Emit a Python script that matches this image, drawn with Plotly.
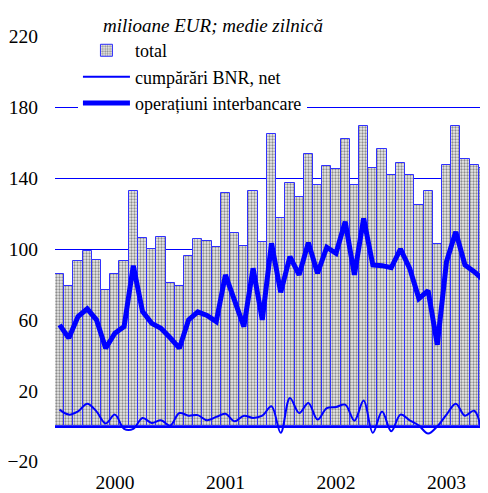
import plotly.graph_objects as go

# monthly observations (Dec 1999 ... Oct 2003)
n_months = 47
x_idx = list(range(n_months))

year_tick_pos = [6, 18, 30, 42]
year_labels = ["2000", "2001", "2002", "2003"]

total = [86, 79, 93, 99, 94, 77, 86, 93, 133, 106, 100, 107, 81, 79, 96, 105.5,
         104.3, 101.1, 131.9, 108.8, 101.9, 132.8, 103.8, 165.2, 117.5, 137, 129.5,
         153.7, 136, 146.9, 144.9, 162, 136.2, 169.3, 146, 156.7, 141.5, 148.6, 142,
         124.8, 132.5, 102.6, 147.7, 169.3, 150.9, 147.3, 146]

cumparari_bnr = [9.3, 6.5, 8.3, 12.7, 8.3, 1.5, 6.5, -1.5, -1.5, 4.6, 1.8, 3.3, 0.3,
                 7.4, 5.9, 6.2, 3.3, 5.2, 7, 2.7, 5.9, 4.6, 5.9, 11.2, -3.8, 15.9, 7.4,
                 13.1, 3.7, 10.2, 10.8, 12.1, 3.1, 14.4, -3.8, 8.3, -2.9, 6.5, 3.3, 0.3,
                 -4.2, -0.1, 6.5, 12.7, 5.9, 8.7, -8.6]

operatiuni_interbancare = [57.2, 49.7, 61.9, 66.2, 60, 44, 52.5, 56.2, 90.6, 64.7, 58,
                           55.3, 49.9, 44, 60, 64.5, 62.5, 59, 85.4, 71, 56.2, 89.1, 60,
                           103.2, 75.5, 95.7, 85.4, 103.6, 86.3, 101, 97.6, 115.4, 85.4,
                           117.3, 91, 90.6, 89.5, 100, 89.1, 72, 76.5, 45.9, 92.9, 109.7,
                           91, 87.2, 82.5]

y_ticks = [-20, 20, 60, 100, 140, 180, 220]

BLUE = "#0000ff"
SERIF = "Liberation Serif"

# the page body has an 8px default margin: figure is 480x485 drawn at offset (8, 8)
fig = go.Figure()
fig.add_trace(go.Bar(
    x=x_idx, y=total, name="total",
    marker=dict(color="#d8d8d8",
                line=dict(color="#3030ff", width=1),
                pattern=dict(shape=".", fgcolor="#8c8c8c", bgcolor="#ececec",
                             size=3, solidity=0.45)),
))
fig.add_trace(go.Scatter(
    x=x_idx, y=cumparari_bnr, name="cumpărări BNR, net", mode="lines",
    line=dict(color=BLUE, width=2, shape="spline", smoothing=1.0),
))
fig.add_trace(go.Scatter(
    x=x_idx, y=operatiuni_interbancare, name="operațiuni interbancare", mode="lines",
    line=dict(color=BLUE, width=5),
))

fig.update_layout(
    template="none",
    width=480, height=485,
    margin=dict(l=47, r=0, t=28, b=31, pad=0),
    paper_bgcolor="white", plot_bgcolor="white",
    bargap=0,
    font=dict(family=SERIF, size=19, color="black"),
    showlegend=True,
    legend=dict(x=0.053, y=1.0092, xanchor="left", yanchor="top",
                bgcolor="white", borderwidth=0,
                font=dict(family=SERIF, size=18, color="black"),
                itemwidth=47, tracegroupgap=0),
    annotations=[dict(text="<i>milioane EUR; medie zilnică</i>", xref="paper", yref="paper",
                      x=0.106, y=1.0246, xanchor="left", yanchor="middle", showarrow=False,
                      font=dict(family=SERIF, size=19, color="black"))],
)
fig.update_xaxes(range=[-0.5, n_months - 0.5], tickmode="array", tickvals=year_tick_pos,
                 ticktext=year_labels, showgrid=False, zeroline=False, showline=False,
                 ticks="outside", ticklen=3, tickcolor="rgba(0,0,0,0)", automargin=False,
                 tickfont=dict(family=SERIF, size=19.5))
fig.update_yaxes(range=[-20.25, 220.25], tickmode="array", tickvals=y_ticks,
                 showgrid=True, gridcolor=BLUE, gridwidth=1,
                 zeroline=True, zerolinecolor=BLUE, zerolinewidth=2.5,
                 showline=False, ticks="outside", ticklen=12, tickcolor="rgba(0,0,0,0)",
                 automargin=False, tickfont=dict(family=SERIF, size=19.5))

fig.write_html("out.html")
